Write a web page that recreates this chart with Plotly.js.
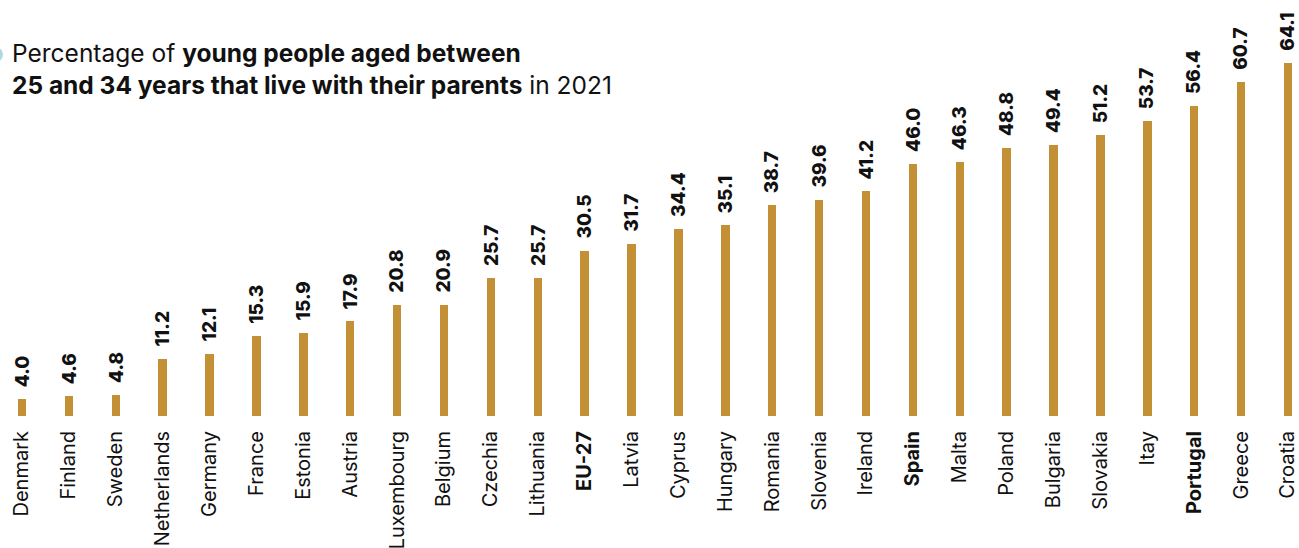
<!DOCTYPE html>
<html>
<head>
<meta charset="utf-8">
<script src="https://cdn.plot.ly/plotly-3.0.1.min.js"></script>
<style>
  html, body { margin: 0; padding: 0; background: #ffffff; }
  #chart { width: 1299px; height: 548px; }
</style>
</head>
<body>
<div id="chart"></div>
<script>
// Share of people aged 25-34 living with their parents, 2021 (%)
const countries = [
  "Denmark", "Finland", "Sweden", "Netherlands", "Germany", "France", "Estonia",
  "Austria", "Luxembourg", "Belgium", "Czechia", "Lithuania", "EU-27", "Latvia",
  "Cyprus", "Hungary", "Romania", "Slovenia", "Ireland", "Spain", "Malta",
  "Poland", "Bulgaria", "Slovakia", "Itay", "Portugal", "Greece", "Croatia"
];
const shares = [
  4.0, 4.6, 4.8, 11.2, 12.1, 15.3, 15.9,
  17.9, 20.8, 20.9, 25.7, 25.7, 30.5, 31.7,
  34.4, 35.1, 38.7, 39.6, 41.2, 46.0, 46.3,
  48.8, 49.4, 51.2, 53.7, 56.4, 60.7, 64.1
];
// Categories set in bold on the axis
const highlighted = ["EU-27", "Spain", "Portugal"];

const BAR_COLOR = "#c39035";
const FONT = "Inter, 'Open Sans', sans-serif";

const tickText = countries.map(c => highlighted.includes(c) ? "<b>" + c + "</b>" : c);

const bars = {
  type: "bar",
  x: countries,
  y: shares,
  width: 0.18,
  marker: { color: BAR_COLOR },
  hoverinfo: "x+y"
};

// Value labels placed just above each bar, reading upward
const valueLabels = countries.map((c, i) => ({
  x: c,
  y: shares[i],
  xref: "x",
  yref: "y",
  text: shares[i].toFixed(1),
  showarrow: false,
  textangle: -90,
  xanchor: "center",
  yanchor: "bottom",
  yshift: 10,
  font: { family: FONT, size: 19, color: "#111111", weight: 800 }
}));

const layout = {
  width: 1299,
  height: 548,
  margin: { l: 0, r: 0, t: 0, b: 132 },
  paper_bgcolor: "#ffffff",
  plot_bgcolor: "#ffffff",
  showlegend: false,
  bargap: 0,
  title: {
    text: "Percentage of <b>young people aged between</b><br><b>25 and 34 years that live with their parents</b> in 2021",
    xref: "container",
    yref: "container",
    x: 12 / 1299,
    y: 1 - 62 / 548,
    xanchor: "left",
    yanchor: "top",
    font: { family: FONT, size: 24.5, color: "#111111" }
  },
  xaxis: {
    type: "category",
    range: [-0.469, 27.235],
    tickmode: "array",
    tickvals: countries,
    ticktext: tickText,
    tickangle: -90,
    ticks: "",
    showline: false,
    showgrid: false,
    zeroline: false,
    ticklabelstandoff: 10,
    tickfont: { family: FONT, size: 20, color: "#111111" },
    fixedrange: true
  },
  yaxis: {
    range: [1, 75.3],
    visible: false,
    showgrid: false,
    zeroline: false,
    fixedrange: true
  },
  annotations: valueLabels,
  shapes: [{
    // small bullet at the left edge of the heading
    type: "circle",
    xref: "paper",
    yref: "paper",
    xsizemode: "pixel",
    ysizemode: "pixel",
    xanchor: 0,
    yanchor: (416 - 54.5) / 416,
    x0: -15, x1: 3,
    y0: -8, y1: 8,
    fillcolor: "#aed8e6",
    line: { width: 0 },
    layer: "above"
  }]
};

Plotly.newPlot("chart", [bars], layout, { displayModeBar: false, staticPlot: true });
</script>
</body>
</html>
